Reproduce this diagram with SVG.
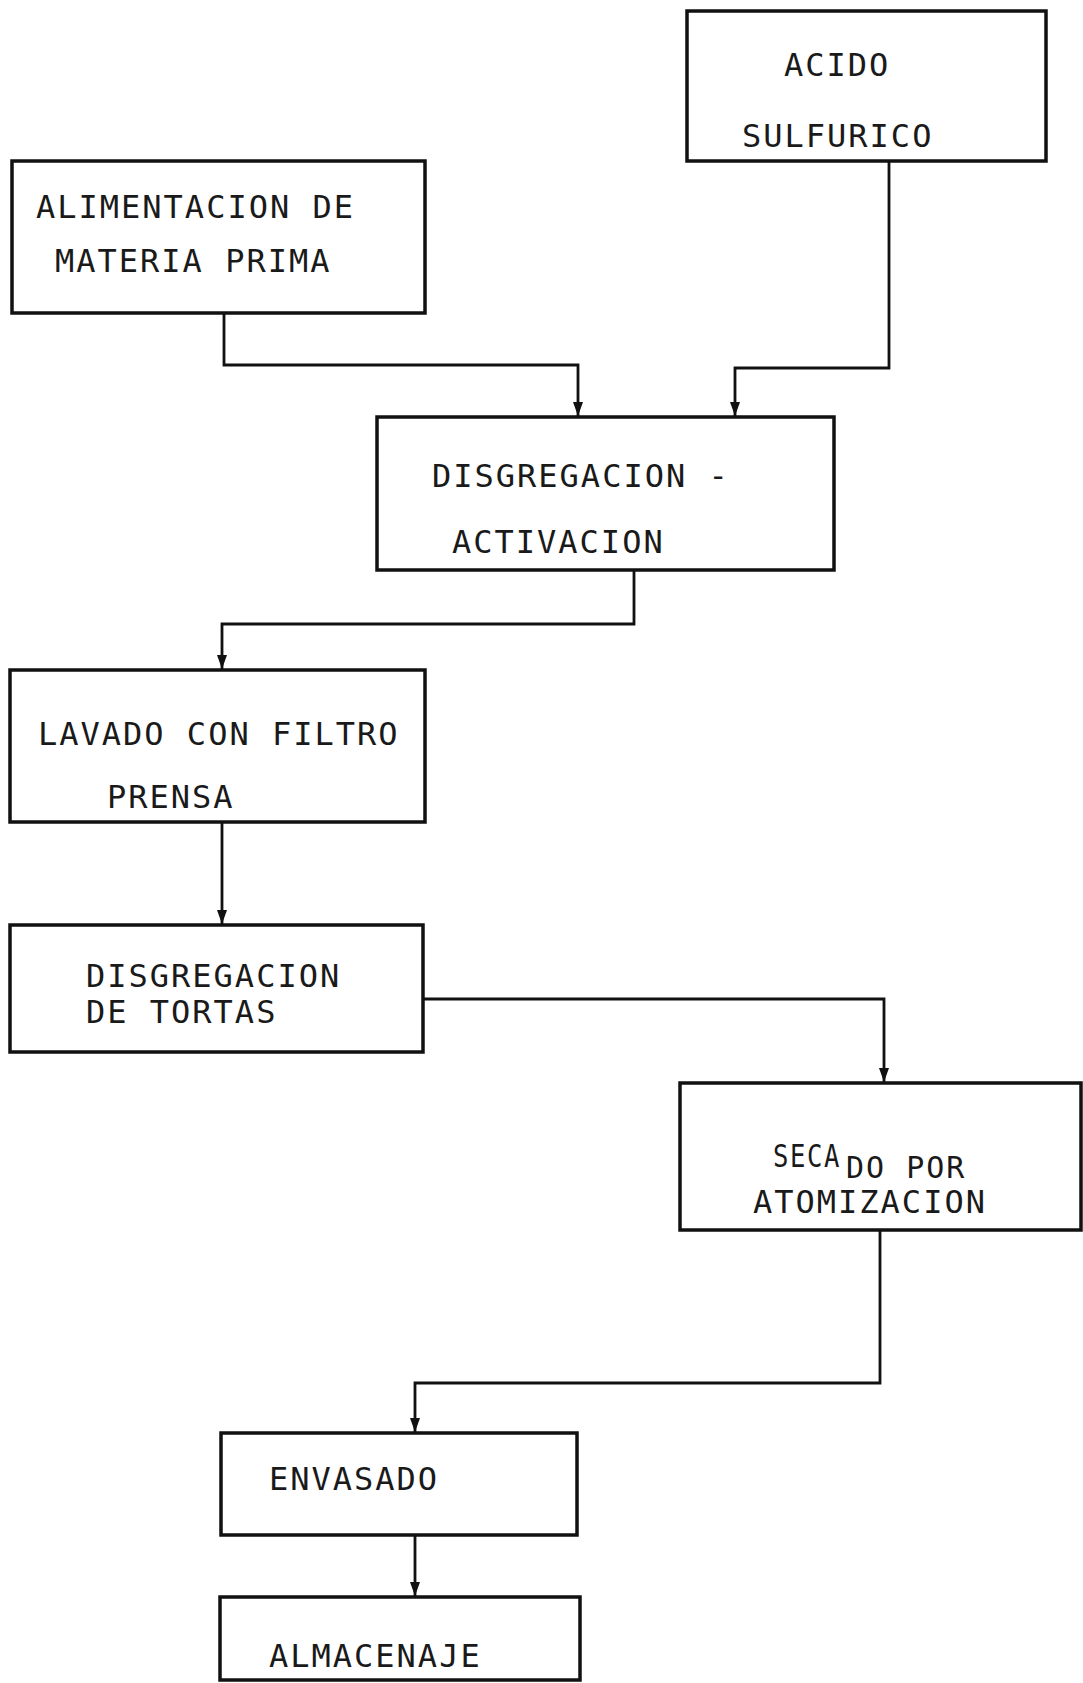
<svg xmlns="http://www.w3.org/2000/svg" width="1083" height="1683" viewBox="0 0 1083 1683">
  <defs>
    <marker id="arrow" markerUnits="userSpaceOnUse" markerWidth="14" markerHeight="10" refX="14" refY="5" orient="auto" viewBox="0 0 14 10">
      <path d="M0,0 L14,5 L0,10 Z" fill="#111"/>
    </marker>
    <style>
      .box { fill: #fff; stroke: #111; stroke-width: 3.5; }
      .lbl { font-family: "DejaVu Sans Mono", "Liberation Mono", monospace; font-size: 32px; letter-spacing: 2px; fill: #1a1a1a; }
      .sub { font-size: 30px; }
      .conn path { fill: none; stroke: #111; stroke-width: 2.8; }
    </style>
  </defs>

  <rect width="1083" height="1683" fill="#fff"/>

  <!-- flow connectors -->
  <g id="connectors" class="conn">
    <path d="M224,313 V365 H578 V416" marker-end="url(#arrow)"/>
    <path d="M889,162 V368 H735 V416" marker-end="url(#arrow)"/>
    <path d="M634,570 V624 H222 V669" marker-end="url(#arrow)"/>
    <path d="M222,822 V924" marker-end="url(#arrow)"/>
    <path d="M423,999 H884 V1082" marker-end="url(#arrow)"/>
    <path d="M880,1230 V1383 H415 V1432" marker-end="url(#arrow)"/>
    <path d="M415,1535 V1596" marker-end="url(#arrow)"/>
  </g>

  <g id="acido-sulfurico">
    <rect class="box" x="687" y="11" width="359" height="150"/>
    <text class="lbl" x="784" y="76">ACIDO</text>
    <text class="lbl" x="742" y="147">SULFURICO</text>
  </g>

  <g id="alimentacion">
    <rect class="box" x="12" y="161" width="413" height="152"/>
    <text class="lbl" x="36" y="218">ALIMENTACION DE</text>
    <text class="lbl" x="55" y="272">MATERIA PRIMA</text>
  </g>

  <g id="disgregacion-activacion">
    <rect class="box" x="377" y="417" width="457" height="153"/>
    <text class="lbl" x="432" y="487">DISGREGACION -</text>
    <text class="lbl" x="452" y="553">ACTIVACION</text>
  </g>

  <g id="lavado">
    <rect class="box" x="10" y="670" width="415" height="152"/>
    <text class="lbl" x="38" y="745">LAVADO CON FILTRO</text>
    <text class="lbl" x="107" y="808">PRENSA</text>
  </g>

  <g id="disgregacion-tortas">
    <rect class="box" x="10" y="925" width="413" height="127"/>
    <text class="lbl" x="86" y="987">DISGREGACION</text>
    <text class="lbl" x="86" y="1023">DE TORTAS</text>
  </g>

  <g id="secado">
    <rect class="box" x="680" y="1083" width="401" height="147"/>
    <text class="lbl" x="773" y="1167" textLength="68" lengthAdjust="spacingAndGlyphs">SECA</text>
    <text class="lbl sub" x="846" y="1178">DO POR</text>
    <text class="lbl" x="753" y="1213">ATOMIZACION</text>
  </g>

  <g id="envasado">
    <rect class="box" x="221" y="1433" width="356" height="102"/>
    <text class="lbl" x="269" y="1490">ENVASADO</text>
  </g>

  <g id="almacenaje">
    <rect class="box" x="220" y="1597" width="360" height="83"/>
    <text class="lbl" x="269" y="1667">ALMACENAJE</text>
  </g>
</svg>
